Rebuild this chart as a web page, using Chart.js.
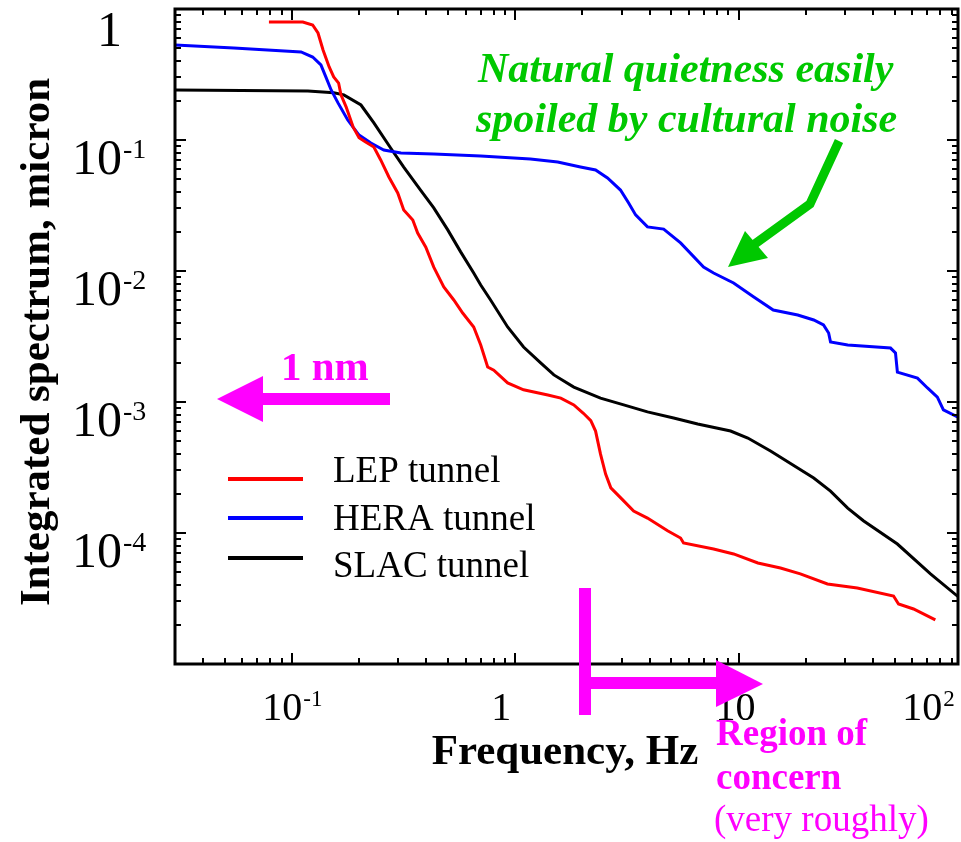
<!DOCTYPE html>
<html>
<head>
<meta charset="utf-8">
<title>Integrated spectrum of tunnel ground motion</title>
<script src="https://cdn.jsdelivr.net/npm/chart.js@4.4.1/dist/chart.umd.min.js"></script>
<style>
  html, body { margin: 0; padding: 0; background: #fff; }
  #wrap { width: 961px; height: 842px; }
</style>
</head>
<body>
<div id="wrap"><canvas id="myChart" width="961" height="842"></canvas></div>
<script>
// integrated spectrum (micron) vs frequency (Hz)
const lepFreq = [0.079, 0.112, 0.124, 0.131, 0.138, 0.147, 0.154, 0.162, 0.166, 0.175, 0.188, 0.200, 0.214, 0.233, 0.250, 0.272, 0.298, 0.317, 0.348, 0.366, 0.398, 0.432, 0.479, 0.531, 0.582, 0.652, 0.701, 0.753, 0.802, 0.925, 1.09, 1.40, 1.60, 1.83, 2.02, 2.18, 2.29, 2.41, 2.54, 2.68, 3.06, 3.39, 3.91, 4.81, 5.50, 5.67, 7.73, 9.50, 12.2, 15.4, 18.9, 25.0, 34.0, 49.4, 52.0, 60.7, 76.0];
const lepAmp = [0.796, 0.796, 0.755, 0.656, 0.486, 0.361, 0.303, 0.272, 0.221, 0.179, 0.126, 0.104, 0.0966, 0.0885, 0.0704, 0.0522, 0.0394, 0.0292, 0.0245, 0.0195, 0.0152, 0.0107, 0.00755, 0.00601, 0.00478, 0.00374, 0.00272, 0.00185, 0.00175, 0.0014, 0.00124, 0.00113, 0.00107, 0.00095, 0.00082, 0.00072, 0.0006, 0.0004, 0.000282, 0.000221, 0.000176, 0.000147, 0.00013, 0.000104, 0.0000916, 0.0000839, 0.0000755, 0.0000692, 0.000059, 0.000054, 0.0000487, 0.0000408, 0.000038, 0.000033, 0.0000287, 0.0000263, 0.0000217];

const heraFreq = [0.030, 0.055, 0.110, 0.124, 0.135, 0.142, 0.150, 0.161, 0.178, 0.200, 0.226, 0.258, 0.308, 0.432, 0.701, 1.17, 1.55, 1.96, 2.29, 2.59, 2.96, 3.22, 3.46, 3.91, 4.62, 5.50, 6.97, 7.73, 9.50, 11.7, 14.3, 18.4, 21.7, 24.0, 25.3, 25.8, 30.8, 47.9, 50.4, 51.4, 63.2, 70.1, 77.6, 82.6, 95.5];
const heraAmp = [0.531, 0.504, 0.47, 0.43, 0.374, 0.303, 0.241, 0.192, 0.142, 0.109, 0.0948, 0.0839, 0.0796, 0.0782, 0.0755, 0.0716, 0.0679, 0.0622, 0.059, 0.0513, 0.0415, 0.033, 0.0268, 0.0217, 0.0209, 0.0164, 0.0107, 0.00966, 0.0081, 0.00634, 0.00504, 0.00461, 0.00423, 0.00387, 0.00336, 0.00287, 0.00272, 0.00258, 0.00237, 0.00169, 0.00152, 0.00128, 0.00109, 0.00087, 0.000768];

const slacFreq = [0.030, 0.118, 0.154, 0.171, 0.204, 0.233, 0.277, 0.317, 0.377, 0.432, 0.499, 0.570, 0.652, 0.701, 0.776, 0.925, 1.09, 1.30, 1.49, 1.83, 2.41, 3.06, 3.91, 5.12, 6.56, 9.21, 11.0, 13.9, 18.4, 21.7, 25.8, 30.8, 36.2, 51.4, 72.3, 96.4];
const slacAmp = [0.241, 0.237, 0.229, 0.221, 0.185, 0.135, 0.0869, 0.0622, 0.0415, 0.0303, 0.0206, 0.014, 0.00966, 0.00782, 0.00601, 0.00374, 0.00263, 0.00199, 0.00161, 0.0013, 0.00107, 0.00095, 0.00084, 0.000755, 0.000679, 0.0006, 0.000531, 0.000423, 0.000313, 0.000263, 0.000209, 0.000155, 0.000124, 0.0000824, 0.0000487, 0.0000325];

const seriesNames = ["LEP tunnel", "HERA tunnel", "SLAC tunnel"];
const xTickValues = [0.1, 1, 10, 100];
const yTickValues = [1, 0.1, 0.01, 0.001, 0.0001];

const serif = '"Liberation Serif", "Times New Roman", serif';
const magenta = "#ff00ff";
const green = "#00c800";

function toPoints(xs, ys) {
    return xs.map(function (x, i) { return { x: x, y: ys[i] }; });
}

// 10^n -> ["10", "n"], with 1 and 10 written plainly
function powParts(v) {
    const e = Math.round(Math.log10(v));
    if (e === 0) return ["1", ""];
    if (e === 1) return ["10", ""];
    return ["10", String(e)];
}

function seg(ctx, x1, y1, x2, y2) {
    ctx.beginPath();
    ctx.moveTo(x1, y1);
    ctx.lineTo(x2, y2);
    ctx.stroke();
}

function tri(ctx, pts) {
    ctx.beginPath();
    ctx.moveTo(pts[0], pts[1]);
    ctx.lineTo(pts[2], pts[3]);
    ctx.lineTo(pts[4], pts[5]);
    ctx.closePath();
    ctx.fill();
}

// box, inward ticks on every side, tick labels
const framePlugin = {
    id: "frame",
    afterDatasetsDraw(chart) {
        const ctx = chart.ctx;
        const a = chart.chartArea;
        const xs = chart.scales.x;
        const ys = chart.scales.y;
        ctx.save();
        ctx.strokeStyle = "#000";
        ctx.lineWidth = 2;
        for (let d = -2; d <= 2; d++) {
            for (let m = 1; m <= 9; m++) {
                const v = m * Math.pow(10, d);
                if (v < xs.min * 0.999 || v > xs.max * 1.001) continue;
                const px = Math.round(xs.getPixelForValue(v));
                const len = m === 1 ? 11 : 6;
                seg(ctx, px, a.bottom, px, a.bottom - len);
                seg(ctx, px, a.top, px, a.top + len);
            }
        }
        for (let d = -5; d <= 0; d++) {
            for (let m = 1; m <= 9; m++) {
                const v = m * Math.pow(10, d);
                if (v < ys.min * 0.999 || v > ys.max * 1.001) continue;
                const py = Math.round(ys.getPixelForValue(v));
                const len = m === 1 ? 11 : 6;
                seg(ctx, a.left, py, a.left + len, py);
                seg(ctx, a.right, py, a.right - len, py);
            }
        }
        ctx.lineWidth = 3;
        ctx.strokeRect(a.left, a.top, a.right - a.left, a.bottom - a.top);

        ctx.fillStyle = "#000";
        ctx.textBaseline = "alphabetic";

        // y tick labels: mantissa right-aligned, exponent after it
        yTickValues.forEach(function (v) {
            const p = powParts(v);
            const py = ys.getPixelForValue(v);
            const top = Math.max(py, 12);
            ctx.font = "50px " + serif;
            ctx.textAlign = "right";
            ctx.fillText(p[0], 122, top + 34);
            if (p[1]) {
                ctx.font = "28px " + serif;
                ctx.textAlign = "left";
                ctx.fillText(p[1], 123, top + 18);
            }
        });

        // x tick labels, centred under the tick (kept inside the page)
        const xShift = { "1": -14, "10": -3, "100": -34 };
        xTickValues.forEach(function (v) {
            const p = powParts(v);
            ctx.font = "40px " + serif;
            const wb = ctx.measureText(p[0]).width;
            ctx.font = "23px " + serif;
            const ws = p[1] ? ctx.measureText(p[1]).width : 0;
            const cx = xs.getPixelForValue(v) + (xShift[String(v)] || 0);
            const x0 = cx - (wb + ws) / 2;
            ctx.textAlign = "left";
            ctx.font = "40px " + serif;
            ctx.fillText(p[0], x0, 720);
            if (p[1]) {
                ctx.font = "23px " + serif;
                ctx.fillText(p[1], x0 + wb + 1, 706);
            }
        });
        ctx.restore();
    },
    afterDraw(chart) {
        const ctx = chart.ctx;
        ctx.save();

        // axis titles
        ctx.fillStyle = "#000";
        ctx.font = "bold 43px " + serif;
        ctx.textAlign = "center";
        ctx.fillText("Frequency, Hz", 565, 764);
        ctx.save();
        ctx.translate(49, 342);
        ctx.rotate(-Math.PI / 2);
        ctx.font = "bold 43px " + serif;
        ctx.fillText("Integrated spectrum, micron", 0, 0);
        ctx.restore();

        // legend
        const lineYs = [479, 518, 558];
        const textYs = [482, 530, 577];
        chart.data.datasets.forEach(function (ds, i) {
            ctx.strokeStyle = ds.borderColor;
            ctx.lineWidth = 4;
            seg(ctx, 228, lineYs[i], 303, lineYs[i]);
            ctx.fillStyle = "#000";
            ctx.font = "37px " + serif;
            ctx.textAlign = "left";
            ctx.fillText(ds.label, 333, textYs[i]);
        });

        // 1 nm level marker
        ctx.fillStyle = magenta;
        ctx.font = "bold 41px " + serif;
        ctx.textAlign = "left";
        ctx.fillText("1 nm", 281, 380);
        ctx.fillRect(260, 393, 130, 12);
        tri(ctx, [217, 399, 263, 376, 263, 422]);

        // region of concern marker
        ctx.fillRect(579, 588, 12, 127);
        ctx.fillRect(591, 677, 126, 12);
        tri(ctx, [716, 660, 716, 707, 763, 684]);
        ctx.font = "bold 37px " + serif;
        ctx.fillText("Region of", 716, 745);
        ctx.fillText("concern", 716, 789);
        ctx.font = "37px " + serif;
        ctx.fillText("(very roughly)", 714, 831);

        // cultural noise note
        ctx.fillStyle = green;
        ctx.strokeStyle = green;
        ctx.font = "italic bold 42px " + serif;
        ctx.fillText("Natural quietness easily", 478, 82);
        ctx.fillText("spoiled by cultural noise", 476, 132);
        ctx.lineWidth = 9;
        ctx.lineJoin = "miter";
        ctx.beginPath();
        ctx.moveTo(839, 141);
        ctx.lineTo(810, 204);
        ctx.lineTo(752, 246);
        ctx.stroke();
        tri(ctx, [728, 267, 745, 231, 768, 258]);

        ctx.restore();
    }
};

const ctx = document.querySelector("#myChart").getContext("2d");
const myChart = new Chart(ctx, {
    type: "line",
    data: {
        datasets: [
            { label: seriesNames[0], data: toPoints(lepFreq, lepAmp), borderColor: "#ff0000" },
            { label: seriesNames[1], data: toPoints(heraFreq, heraAmp), borderColor: "#0000ff" },
            { label: seriesNames[2], data: toPoints(slacFreq, slacAmp), borderColor: "#000000" },
        ],
    },
    options: {
        responsive: false,
        animation: false,
        devicePixelRatio: 1,
        layout: { padding: { left: 175, right: 3, top: 9, bottom: 178 } },
        elements: {
            line: { borderWidth: 3, tension: 0, fill: false },
            point: { radius: 0, hoverRadius: 0 },
        },
        plugins: { legend: { display: false }, tooltip: { enabled: false } },
        scales: {
            x: { type: "logarithmic", min: 0.03, max: 96, display: false },
            y: { type: "logarithmic", min: 0.00001, max: 1, display: false },
        },
    },
    plugins: [framePlugin],
});
</script>
</body>
</html>
